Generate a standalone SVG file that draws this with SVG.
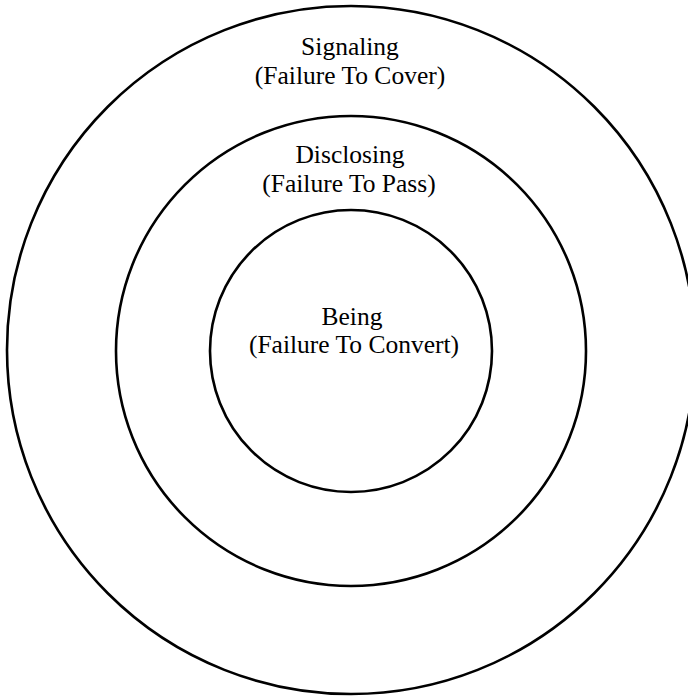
<svg xmlns="http://www.w3.org/2000/svg" width="688" height="697" viewBox="0 0 688 697">
<style>
.ring{fill:none;stroke:#000;stroke-width:2.6}
.lbl{font-family:"Liberation Serif","Times New Roman",serif;font-size:25.5px;fill:#000;text-anchor:middle}
</style>
<rect width="688" height="697" fill="#fff"/>
<g id="signaling">
<circle class="ring" cx="351" cy="350" r="344"/>
<text class="lbl" x="350" y="55">Signaling</text>
<text class="lbl" x="350" y="84">(Failure To Cover)</text>
</g>
<g id="disclosing">
<circle class="ring" cx="351" cy="351" r="235"/>
<text class="lbl" x="350" y="163">Disclosing</text>
<text class="lbl" x="349" y="192">(Failure To Pass)</text>
</g>
<g id="being">
<circle class="ring" cx="351" cy="351" r="141"/>
<text class="lbl" x="352" y="325">Being</text>
<text class="lbl" x="354" y="353">(Failure To Convert)</text>
</g>
<g id="connectors"/>
</svg>
